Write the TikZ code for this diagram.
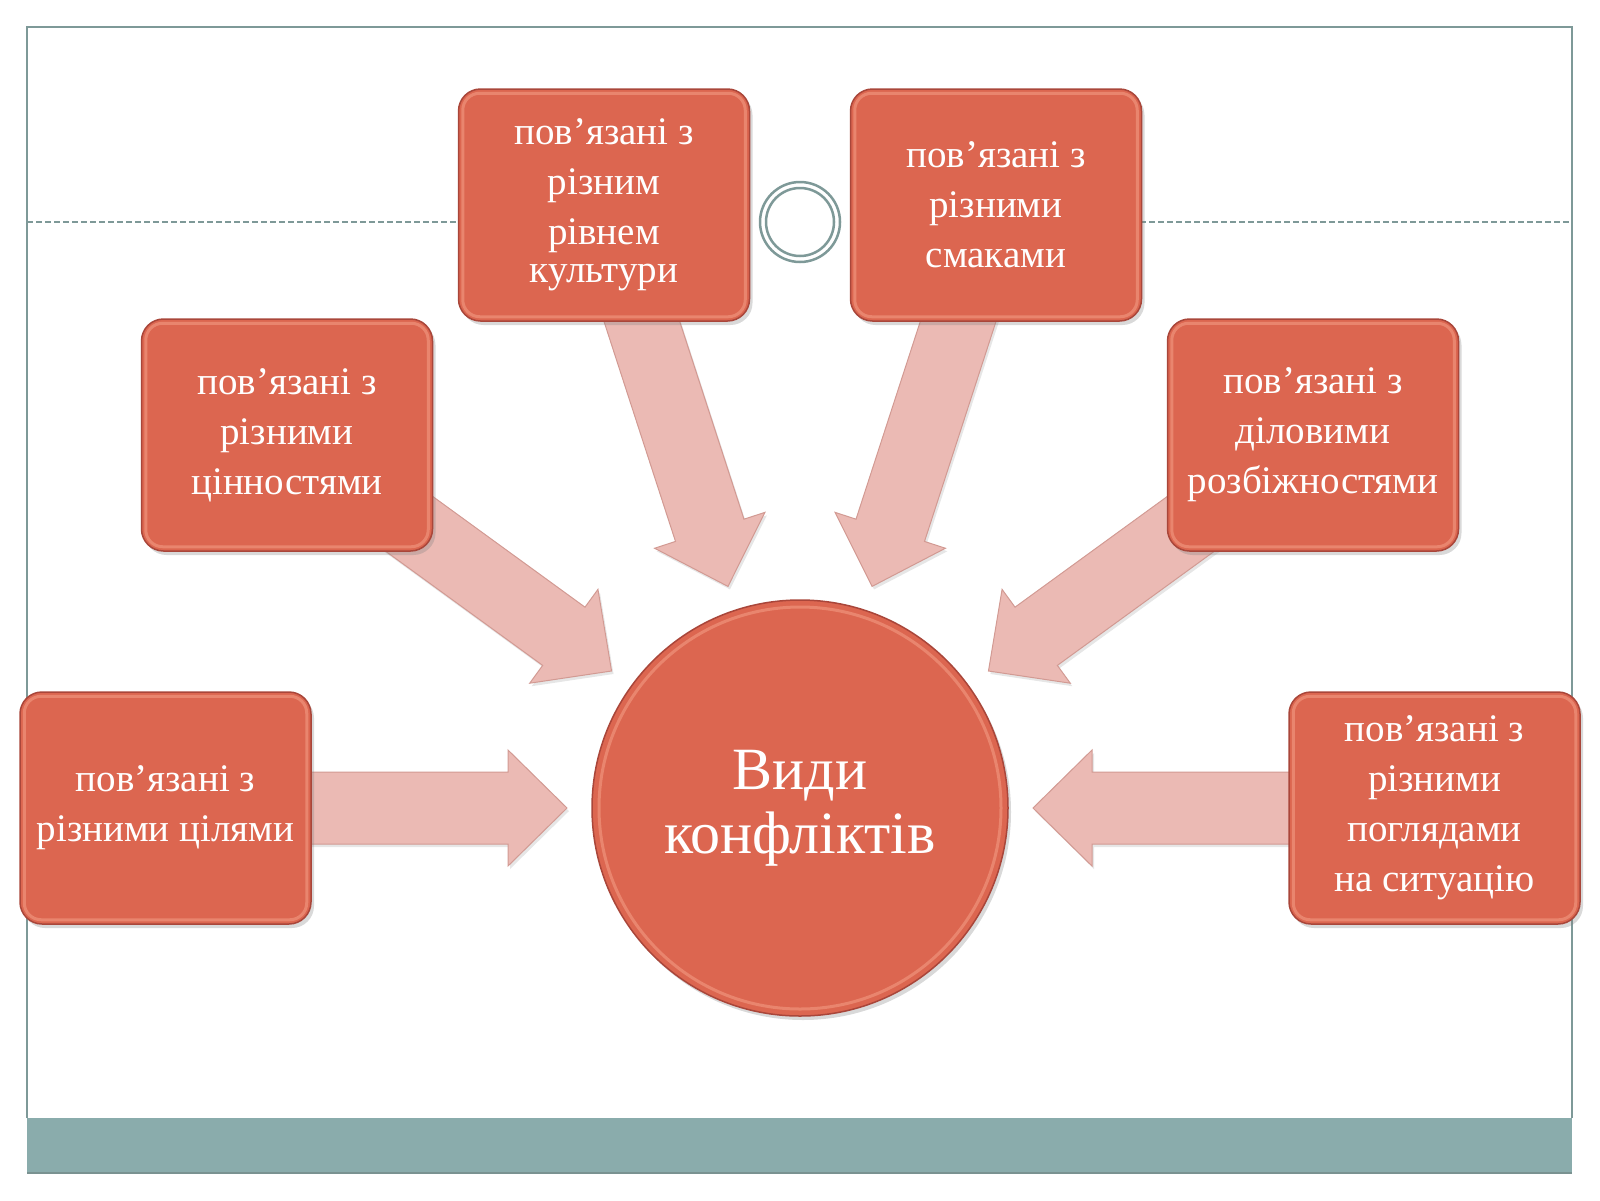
\documentclass[tikz,border=0pt]{standalone}
\usepackage{fontspec}
\setmainfont{Liberation Serif}
\usetikzlibrary{calc,shadows,backgrounds}
\definecolor{boxred}{HTML}{DC6650}
\definecolor{boxdark}{HTML}{A9463A}
\definecolor{boxlight}{HTML}{F4A088}
\definecolor{arrowpink}{HTML}{EBBAB4}
\definecolor{arrowline}{HTML}{D29A93}
\definecolor{frameteal}{HTML}{7E9998}
\definecolor{bandteal}{HTML}{8AACAC}
\definecolor{banddark}{HTML}{7A9291}

\newcommand\blockarr[1]{%
  \coordinate (T) at ($(c.center)!233pt!(#1.center)$);
  \coordinate (B) at ($(T)!59pt!(#1.center)$);
  \draw[blockarrow]
    ($(#1.center)!36pt!90:(T)$) -- ($(B)!36pt!90:(T)$) -- ($(B)!58pt!90:(T)$) -- (T)
    -- ($(B)!58pt!-90:(T)$) -- ($(B)!36pt!-90:(T)$) -- ($(#1.center)!36pt!-90:(T)$) -- cycle;
}
\newcommand\bevelbox[1]{%
  \draw[bevel, rounded corners=17pt] ($(#1.north west)+(5,5)$) rectangle ($(#1.south east)+(-5,-5)$);
}

\begin{document}
\begin{tikzpicture}[x=1pt,y=-1pt,
  catbox/.style={rounded corners=22pt, fill=boxred, draw=boxdark, line width=1.5pt,
    minimum width=291pt, minimum height=232pt, text=white, align=center,
    font=\fontsize{39}{50}\selectfont, inner sep=0pt,
    drop shadow={shadow xshift=3pt, shadow yshift=-4pt, opacity=0.3}},
  maincirc/.style={circle, fill=boxred, draw=boxdark, line width=1.5pt,
    minimum size=416pt, text=white, align=center, inner sep=0pt,
    font=\fontsize{60}{64}\selectfont,
    drop shadow={shadow xshift=3pt, shadow yshift=-4pt, opacity=0.3}},
  bevel/.style={draw=boxlight, line width=3pt, opacity=0.55},
  blockarrow/.style={fill=arrowpink, draw=arrowline, line width=1pt, line join=miter,
    drop shadow={shadow xshift=2pt, shadow yshift=-3pt, opacity=0.2}},
  frameline/.style={draw=frameteal, line width=2.5pt},
  decoring/.style={circle, draw=frameteal, line width=2.5pt, inner sep=0pt}
]
\useasboundingbox (0,0) rectangle (1600,1200);

% main nodes
\node[maincirc] (c) at (800,808) {Види\\конфліктів};
\node[catbox] (b1) at (604,205) {пов’язані з\\різним\\рівнем\\[-12pt]культури};
\node[catbox] (b2) at (996,205) {пов’язані з\\різними\\смаками};
\node[catbox] (b3) at (287,435) {пов’язані з\\різними\\цінностями};
\node[catbox] (b4) at (1313,435) {пов’язані з\\діловими\\розбіжностями};
\node[catbox] (b5) at (165.5,808) {пов’язані з\\різними цілями};
\node[catbox] (b6) at (1434.5,808) {пов’язані з\\різними\\поглядами\\на ситуацію};

\foreach \b in {b1,b2,b3,b4,b5,b6} {\bevelbox{\b}}
\draw[bevel] (c.center) circle[radius=201pt];

\begin{scope}[on background layer]
  % slide frame
  \draw[frameline] (27,1118) -- (27,27) -- (1572,27) -- (1572,1118);
  \fill[bandteal] (27,1118) rectangle (1572,1173);
  \draw[banddark, line width=2pt] (27,1173) -- (1572,1173);
  \draw[frameteal, line width=1.5pt, dash pattern=on 6pt off 3pt] (27,222) -- (460,222);
  \draw[frameteal, line width=1.5pt, dash pattern=on 6pt off 3pt] (1140,222) -- (1572,222);
  \node[decoring, fill=white, minimum size=80pt] (deco) at (800,222) {};
  \node[decoring, minimum size=68pt] (decoin) at (deco.center) {};
  % block arrows
  \foreach \b in {b1,b2,b3,b4,b5,b6} {\blockarr{\b}}
\end{scope}
\end{tikzpicture}
\end{document}
